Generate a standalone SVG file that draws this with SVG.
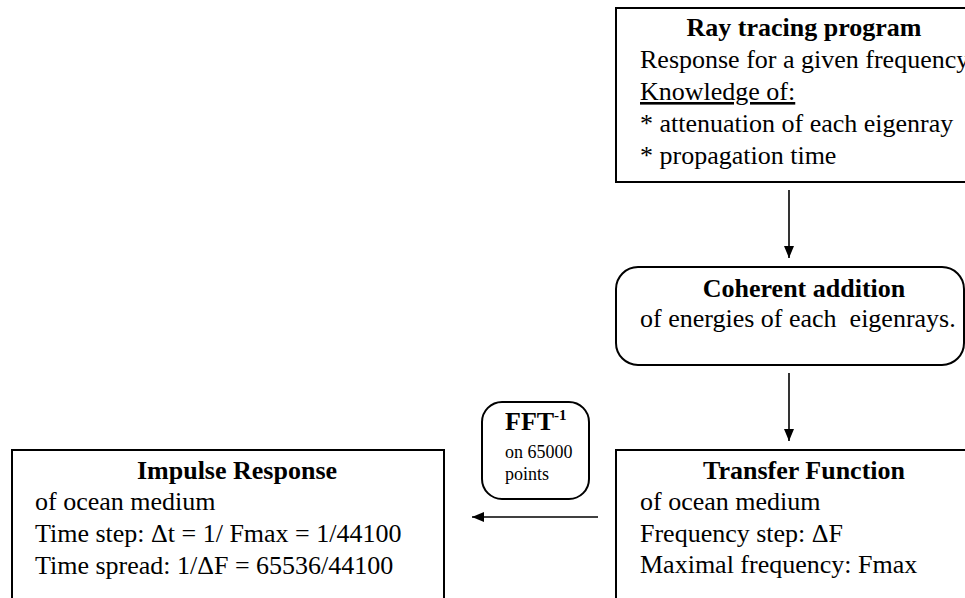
<svg xmlns="http://www.w3.org/2000/svg" width="965" height="598" viewBox="0 0 965 598">
<defs>
<style>
.box{fill:#fff;stroke:#000;stroke-width:2}
.t{font-family:"Liberation Serif","Times New Roman",serif;font-size:26px;fill:#000}
.b{font-weight:bold;text-anchor:middle}
.s{font-family:"Liberation Serif","Times New Roman",serif;font-size:18px;fill:#000}
.edge{stroke:#000;stroke-width:1.6;fill:none}
</style>
<marker id="ah" viewBox="0 0 12 10" refX="12" refY="5" markerWidth="12" markerHeight="10" markerUnits="userSpaceOnUse" orient="auto">
<path d="M0,0 L12,5 L0,10 Z" fill="#000"/>
</marker>
</defs>
<rect width="965" height="598" fill="#fff"/>
<g id="ray-tracing">
<rect class="box" x="616" y="8" width="380" height="174"/>
<text class="t b" x="804" y="36">Ray tracing program</text>
<text class="t" x="640" y="68">Response for a given frequency</text>
<text class="t" x="640" y="100" text-decoration="underline">Knowledge of:</text>
<text class="t" x="640" y="132">* attenuation of each eigenray</text>
<text class="t" x="640" y="164">* propagation time</text>
</g>
<g id="coherent-addition">
<rect class="box" x="616" y="267" width="348" height="98" rx="22" ry="22"/>
<text class="t b" x="804" y="297">Coherent addition</text>
<text class="t" x="640" y="327" xml:space="preserve">of energies of each  eigenrays.</text>
</g>
<g id="transfer-function">
<rect class="box" x="616" y="450" width="380" height="170"/>
<text class="t b" x="804" y="479">Transfer Function</text>
<text class="t" x="640" y="510">of ocean medium</text>
<text class="t" x="640" y="542">Frequency step: ΔF</text>
<text class="t" x="640" y="573">Maximal frequency: Fmax</text>
</g>
<g id="impulse-response">
<rect class="box" x="12" y="450" width="432" height="170"/>
<text class="t b" x="237" y="479">Impulse Response</text>
<text class="t" x="35" y="510">of ocean medium</text>
<text class="t" x="35" y="542">Time step: Δt = 1/ Fmax = 1/44100</text>
<text class="t" x="35" y="574">Time spread: 1/ΔF = 65536/44100</text>
</g>
<g id="fft">
<rect class="box" x="482" y="402" width="107" height="97" rx="20" ry="20"/>
<text class="t" x="505" y="430" font-weight="bold">FFT<tspan font-size="15" dy="-10">-1</tspan></text>
<text class="s" x="505" y="458">on 65000</text>
<text class="s" x="505" y="480">points</text>
</g>
<g id="connectors">
<line class="edge" x1="789" y1="190" x2="789" y2="258" marker-end="url(#ah)"/>
<line class="edge" x1="789" y1="373" x2="789" y2="441" marker-end="url(#ah)"/>
<line class="edge" x1="598" y1="517" x2="472" y2="517" marker-end="url(#ah)"/>
</g>
</svg>
